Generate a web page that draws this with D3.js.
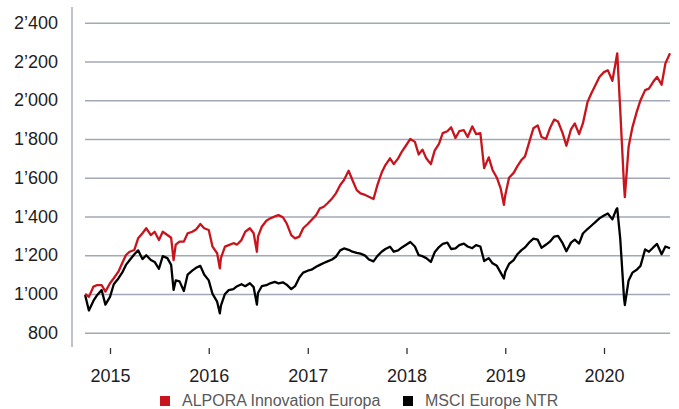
<!DOCTYPE html>
<html>
  <meta charset="utf-8" />
  <head>
    <title>ALPORA vs MSCI</title>
    <script src="https://d3js.org/d3.v7.min.js"></script>
  </head>
  <style>
  body { margin: 0; background: #fff; }
  svg { display: block; font-family: "Liberation Sans", Arial, sans-serif; }
  </style>
  <body>
    <svg width="679" height="409"></svg>
    <script>
      // semi-monthly readings, plus a few extra days at the sharp lows / highs
      var dates = [
        "2014-10-01","2014-10-15","2014-11-01","2014-11-15","2014-12-01","2014-12-15",
        "2015-01-01","2015-01-15","2015-02-01","2015-02-15","2015-03-01","2015-03-15",
        "2015-04-01","2015-04-15","2015-05-01","2015-05-15","2015-06-01","2015-06-15",
        "2015-07-01","2015-07-15","2015-08-01","2015-08-15","2015-08-24","2015-09-01",
        "2015-09-15","2015-10-01","2015-10-15","2015-11-01","2015-11-15","2015-12-01",
        "2015-12-15","2016-01-01","2016-01-15","2016-02-01","2016-02-11","2016-02-15",
        "2016-03-01","2016-03-15","2016-04-01","2016-04-15","2016-05-01","2016-05-15",
        "2016-06-01","2016-06-15","2016-06-27","2016-07-01","2016-07-15","2016-08-01",
        "2016-08-15","2016-09-01","2016-09-15","2016-10-01","2016-10-15","2016-11-01",
        "2016-11-15","2016-12-01","2016-12-15","2017-01-01","2017-01-15","2017-02-01",
        "2017-02-15","2017-03-01","2017-03-15","2017-04-01","2017-04-15","2017-05-01",
        "2017-05-15","2017-06-01","2017-06-15","2017-07-01","2017-07-15","2017-08-01",
        "2017-08-15","2017-09-01","2017-09-15","2017-10-01","2017-10-15","2017-11-01",
        "2017-11-15","2017-12-01","2017-12-15","2018-01-01","2018-01-15","2018-02-01",
        "2018-02-15","2018-03-01","2018-03-15","2018-04-01","2018-04-15","2018-05-01",
        "2018-05-15","2018-06-01","2018-06-15","2018-07-01","2018-07-15","2018-08-01",
        "2018-08-15","2018-09-01","2018-09-15","2018-10-01","2018-10-15","2018-11-01",
        "2018-11-15","2018-12-01","2018-12-15","2018-12-27","2019-01-01","2019-01-15",
        "2019-02-01","2019-02-15","2019-03-01","2019-03-15","2019-04-01","2019-04-15",
        "2019-05-01","2019-05-15","2019-06-01","2019-06-15","2019-07-01","2019-07-15",
        "2019-08-01","2019-08-15","2019-09-01","2019-09-15","2019-10-01","2019-10-15",
        "2019-11-01","2019-11-15","2019-12-01","2019-12-15","2020-01-01","2020-01-15",
        "2020-02-01","2020-02-15","2020-02-19","2020-03-01","2020-03-15","2020-03-18",
        "2020-04-01","2020-04-15","2020-05-01","2020-05-15","2020-06-01","2020-06-15",
        "2020-07-01","2020-07-15","2020-08-01","2020-08-15","2020-09-01"
      ];

      var alpora = [
        1000, 985, 1038, 1046, 1046, 1012,
        1055, 1081, 1115, 1158, 1201, 1218,
        1227, 1287, 1313, 1339, 1304, 1321,
        1278, 1321, 1304, 1290, 1175, 1255,
        1270, 1270, 1313, 1321, 1333, 1361,
        1339, 1330, 1244, 1210, 1132, 1185,
        1244, 1252, 1262, 1255, 1278, 1321,
        1339, 1313, 1218, 1296, 1347, 1378,
        1390, 1400, 1407, 1396, 1364, 1304,
        1287, 1296, 1339, 1361, 1382, 1407,
        1442, 1450, 1468, 1493, 1519, 1562,
        1588, 1636, 1588, 1536, 1519, 1511,
        1502, 1490, 1560, 1625, 1665, 1700,
        1670, 1700, 1735, 1770, 1800, 1785,
        1720, 1745, 1700, 1670, 1740, 1775,
        1830, 1840, 1860, 1805, 1840, 1845,
        1810, 1865, 1825, 1830, 1650, 1705,
        1640, 1600, 1545, 1460, 1510, 1600,
        1625, 1660, 1690, 1710, 1790, 1855,
        1870, 1810, 1800, 1855, 1900, 1890,
        1830, 1765, 1850, 1880, 1825, 1880,
        1990, 2035, 2080, 2120, 2145, 2155,
        2100, 2210, 2242, 1950, 1560, 1500,
        1760, 1860, 1940, 2000, 2052, 2060,
        2095, 2120, 2080, 2190, 2242
      ];

      var msci = [
        995, 915, 965, 995, 1020, 945,
        985, 1050, 1080, 1110, 1150, 1175,
        1205, 1225, 1180, 1200, 1175, 1165,
        1130, 1195, 1185, 1150, 1021, 1070,
        1065, 1015, 1100, 1120, 1135, 1145,
        1100, 1070, 1000, 960, 900, 940,
        1000, 1020, 1025, 1040, 1050, 1040,
        1055, 1035, 945, 1005, 1040, 1045,
        1055, 1062, 1055, 1060, 1048, 1025,
        1040, 1085, 1110, 1120, 1125, 1140,
        1150, 1160, 1168, 1178, 1192, 1225,
        1235, 1228, 1218, 1212, 1208, 1198,
        1178, 1168, 1195, 1218, 1232, 1244,
        1218, 1225, 1240, 1255, 1268, 1245,
        1200, 1195, 1185, 1165, 1215, 1242,
        1258, 1265, 1232, 1235, 1252, 1260,
        1245, 1236, 1252, 1245, 1170, 1185,
        1158, 1145, 1110, 1080, 1115, 1155,
        1175, 1205, 1225, 1240, 1268, 1285,
        1280, 1238, 1255, 1270, 1296, 1300,
        1262, 1220, 1265, 1280, 1260, 1312,
        1335, 1352, 1372, 1390, 1405, 1415,
        1385, 1435, 1442, 1285, 980, 943,
        1070, 1110, 1125, 1145, 1230, 1218,
        1240, 1258, 1205, 1245, 1236
      ];

      var seriesNames = ["ALPORA Innovation Europa", "MSCI Europe NTR"];
      var seriesColors = ["#c8141c", "#000000"];
      var yTicks = [800, 1000, 1200, 1400, 1600, 1800, 2000, 2200, 2400];
      var yearTicks = [2015, 2016, 2017, 2018, 2019, 2020];

      var parse = d3.timeParse("%Y-%m-%d");
      var series = [alpora, msci].map(function(vals, s) {
        return {
          name: seriesNames[s],
          color: seriesColors[s],
          values: vals.map(function(v, i) { return {date: parse(dates[i]), value: v}; })
        };
      });

      var swiss = d3.formatLocale({decimal: ".", thousands: "\u2019", grouping: [3], currency: ["", ""]});
      var fmt = swiss.format(",");

      var svg = d3.select("svg");

      var x = d3.scaleTime()
        .domain([new Date(2015, 0, 1), new Date(2020, 0, 1)])
        .range([110, 604]);

      var y = d3.scaleLinear()
        .domain([800, 2400])
        .range([332.7, 22.7]);

      // left axis line
      svg.append("line")
        .attr("x1", 72).attr("x2", 72)
        .attr("y1", 7).attr("y2", 347)
        .attr("stroke", "#a4a7b6")
        .attr("stroke-width", 1.4);

      // gridlines + y labels
      var yAxis = svg.append("g")
        .attr("transform", "translate(85,0)")
        .call(d3.axisLeft(y).tickValues(yTicks).tickSize(-585).tickPadding(27).tickFormat(fmt));
      yAxis.select(".domain").remove();
      yAxis.selectAll(".tick line").attr("stroke", "#a4a7b6").attr("stroke-width", 1.4);
      yAxis.selectAll(".tick text")
        .attr("font-size", 18)
        .attr("font-family", "Liberation Sans, Arial, sans-serif")
        .attr("fill", "#1e1e1e");

      // year ticks
      var xAxis = svg.append("g")
        .attr("transform", "translate(0,348)")
        .call(d3.axisBottom(x)
          .tickValues(yearTicks.map(function(yr) { return new Date(yr, 0, 1); }))
          .tickSize(6).tickPadding(15)
          .tickFormat(d3.timeFormat("%Y")));
      xAxis.select(".domain").remove();
      xAxis.selectAll(".tick line").attr("stroke", "#333").attr("stroke-width", 1.3);
      xAxis.selectAll(".tick text")
        .attr("font-size", 18)
        .attr("font-family", "Liberation Sans, Arial, sans-serif")
        .attr("fill", "#1e1e1e");

      var line = d3.line()
        .x(function(d) { return x(d.date); })
        .y(function(d) { return y(d.value); });

      // black first so red sits on top
      svg.selectAll(".series")
        .data(series.slice().reverse())
        .enter().append("path")
          .attr("class", "series")
          .attr("d", function(d) { return line(d.values); })
          .attr("fill", "none")
          .attr("stroke", function(d) { return d.color; })
          .attr("stroke-width", 2.3)
          .attr("stroke-linejoin", "round");

      // legend
      var legendX = [160, 403];
      var legend = svg.selectAll(".legend")
        .data(series)
        .enter().append("g")
          .attr("class", "legend")
          .attr("transform", function(d, i) { return "translate(" + legendX[i] + ",396)"; });
      legend.append("rect")
        .attr("width", 10).attr("height", 10)
        .attr("fill", function(d) { return d.color; });
      legend.append("text")
        .attr("x", 22).attr("y", 10)
        .attr("font-size", 16)
        .attr("fill", "#595959")
        .text(function(d) { return d.name; });
    </script>
  </body>
</html>
